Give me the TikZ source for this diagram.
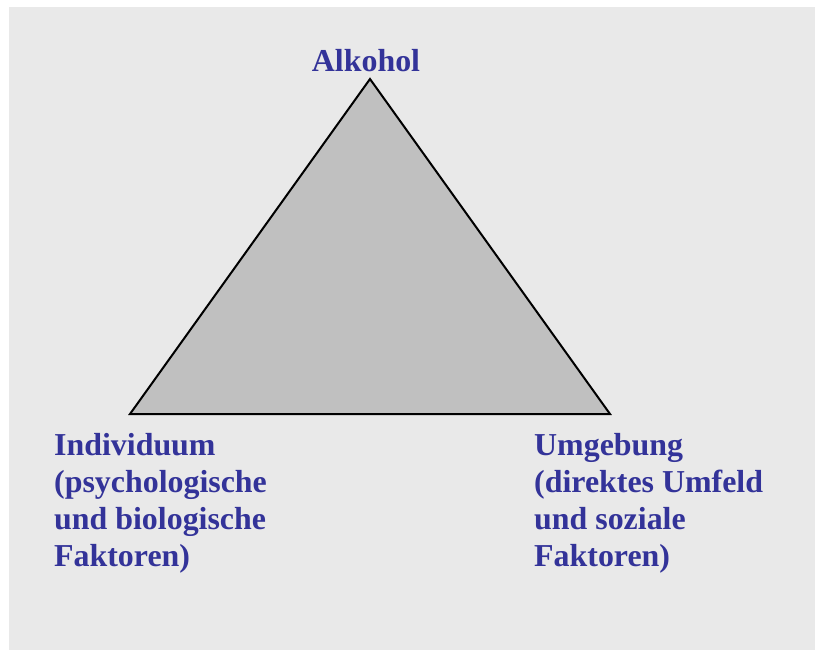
\documentclass[tikz,border=0pt]{standalone}
\usepackage{fontspec}
\setmainfont{Liberation Serif}
\definecolor{bgc}{HTML}{E9E9E9}
\definecolor{tric}{HTML}{C0C0C0}
\definecolor{txtc}{HTML}{333399}
\tikzset{
  lbl/.style={anchor=base west, inner sep=0pt, text=txtc,
    font=\bfseries\fontsize{31.9}{37}\selectfont},
  tri/.style={draw=black, fill=tric, line width=2pt, line join=miter}
}
\begin{document}
\begin{tikzpicture}[x=1pt,y=-1pt]
\useasboundingbox (0,0) rectangle (815,650);
\fill[white] (0,0) rectangle (815,650);
\fill[bgc] (9,7) rectangle (815,650);
\coordinate (A) at (370,79);
\coordinate (L) at (130,414);
\coordinate (R) at (610,414);
\draw[tri] (A) -- (L) -- (R) -- cycle;
\node[lbl, anchor=base] (alk) at (366,72) {Alkohol};
\node[lbl] (ind) at (54,455) {\parbox[t]{300pt}{\raggedright\baselineskip=37pt Individuum\\(psychologische\\und biologische\\Faktoren)}};
\node[lbl] (umg) at (534,455) {\parbox[t]{280pt}{\raggedright\baselineskip=37pt Umgebung\\(direktes Umfeld\\und soziale\\Faktoren)}};
\end{tikzpicture}
\end{document}
